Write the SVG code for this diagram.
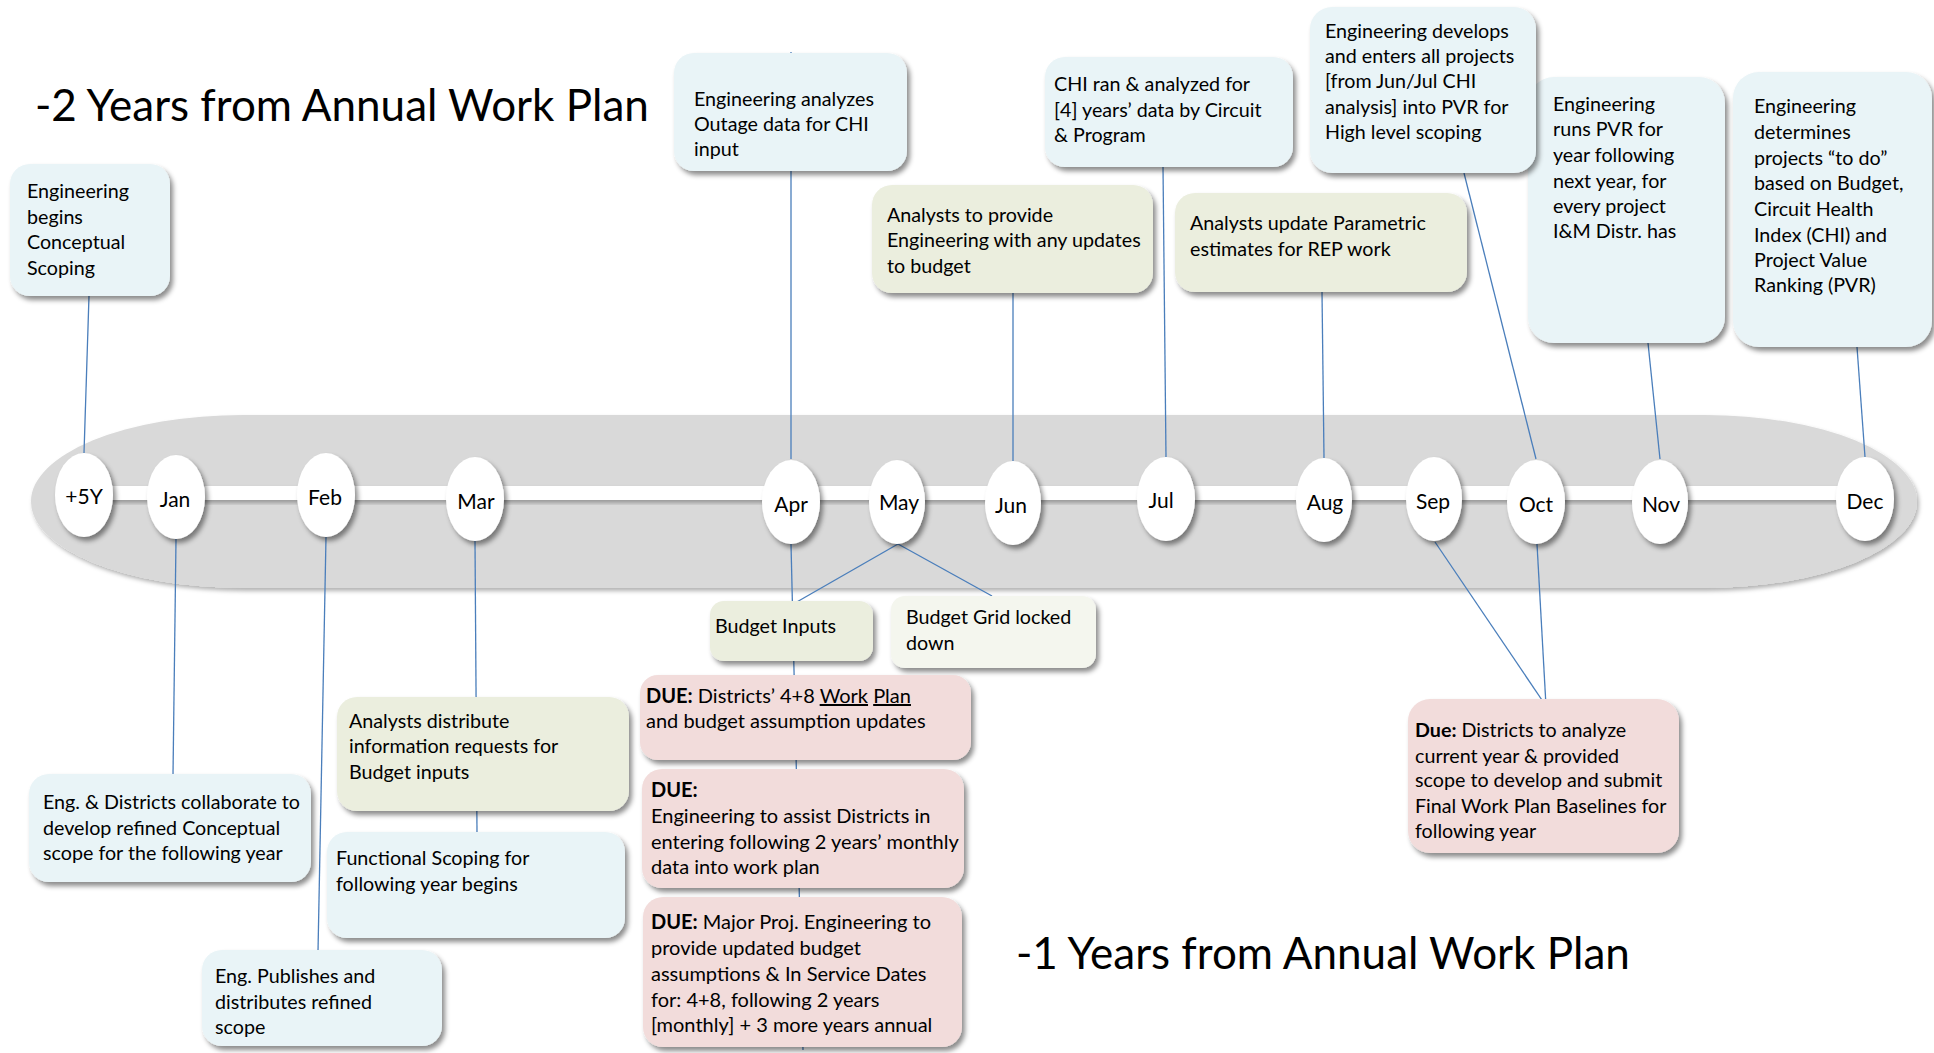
<svg xmlns="http://www.w3.org/2000/svg" width="1934" height="1053" viewBox="0 0 1934 1053">
  <style>
    .t { font-family: Lato, "Open Sans", "Liberation Sans", sans-serif; font-size: 19.7px; fill: #000; }
    .tp { font-size: 20px; }
    .title { font-family: Lato, "Open Sans", "Liberation Sans", sans-serif; font-size: 44px; fill: #000; }
    .mon { font-family: Lato, "Open Sans", "Liberation Sans", sans-serif; font-size: 21px; fill: #000; text-anchor: middle; }
    .blue { fill: #E9F4F7; }
    .olive { fill: #EBEEDE; }
    .pale { fill: #F4F6EE; }
    .pink { fill: #F2DCDB; }
    .box { filter: url(#shadow); }
    .oval { fill: #fff; filter: url(#shadow); }
    .conn { stroke: #4A7EBB; stroke-width: 1.3; fill: none; }
    .b { font-weight: bold; }
    .u { text-decoration: underline; }
  </style>
  <defs>
    <filter id="shadow" x="-20%" y="-20%" width="150%" height="150%">
      <feDropShadow dx="3" dy="4" stdDeviation="2.5" flood-color="#000" flood-opacity="0.45"/>
    </filter>
    <filter id="bandShadow" x="-5%" y="-20%" width="110%" height="150%">
      <feDropShadow dx="2" dy="3" stdDeviation="2" flood-color="#000" flood-opacity="0.3"/>
    </filter>
  </defs>

  <rect width="1934" height="1053" fill="#fff"/>

  <!-- timeline band -->
  <g id="band">
    <rect x="31" y="415" width="1886" height="173" rx="212" ry="86.5" fill="#D9D9D9" filter="url(#bandShadow)"/>
    <rect x="80" y="486" width="1786" height="14" fill="#fff" filter="url(#bandShadow)"/>
  </g>

  <!-- connectors -->
  <g id="connectors" class="conn">
    <line x1="89" y1="296" x2="84" y2="453"/>
    <line x1="176" y1="539" x2="173" y2="775"/>
    <line x1="326" y1="537" x2="318" y2="952"/>
    <line x1="475" y1="541" x2="477" y2="832"/>
    <line x1="791" y1="52" x2="791" y2="459"/>
    <line x1="791" y1="544" x2="803" y2="1050"/>
    <line x1="898" y1="544" x2="795" y2="603"/>
    <line x1="898" y1="544" x2="992" y2="596"/>
    <line x1="1013" y1="293" x2="1013" y2="461"/>
    <line x1="1163" y1="167" x2="1166" y2="457"/>
    <line x1="1322" y1="292" x2="1324" y2="458"/>
    <line x1="1464" y1="173" x2="1536" y2="459"/>
    <line x1="1648" y1="343" x2="1660" y2="459"/>
    <line x1="1857" y1="347" x2="1865" y2="457"/>
    <line x1="1435" y1="542" x2="1546" y2="706"/>
    <line x1="1537" y1="544" x2="1546" y2="706"/>
  </g>

  <!-- month markers -->
  <g id="m-5y"><ellipse class="oval" cx="84" cy="495" rx="29" ry="42"/><text class="mon" x="84" y="504">+5Y</text></g>
  <g id="m-jan"><ellipse class="oval" cx="176" cy="497" rx="29" ry="42"/><text class="mon" x="175" y="507">Jan</text></g>
  <g id="m-feb"><ellipse class="oval" cx="326" cy="495" rx="29" ry="42"/><text class="mon" x="325" y="505">Feb</text></g>
  <g id="m-mar"><ellipse class="oval" cx="475" cy="499" rx="29" ry="42"/><text class="mon" x="476" y="509">Mar</text></g>
  <g id="m-apr"><ellipse class="oval" cx="791" cy="502" rx="29" ry="42"/><text class="mon" x="791" y="512">Apr</text></g>
  <g id="m-may"><ellipse class="oval" cx="897" cy="502" rx="28" ry="42"/><text class="mon" x="899" y="510">May</text></g>
  <g id="m-jun"><ellipse class="oval" cx="1013" cy="503" rx="28" ry="42"/><text class="mon" x="1011" y="513">Jun</text></g>
  <g id="m-jul"><ellipse class="oval" cx="1166" cy="499" rx="29" ry="42"/><text class="mon" x="1161" y="508">Jul</text></g>
  <g id="m-aug"><ellipse class="oval" cx="1324" cy="500" rx="28" ry="42"/><text class="mon" x="1325" y="510">Aug</text></g>
  <g id="m-sep"><ellipse class="oval" cx="1434" cy="499" rx="28" ry="42"/><text class="mon" x="1433" y="509">Sep</text></g>
  <g id="m-oct"><ellipse class="oval" cx="1536" cy="502" rx="29" ry="42"/><text class="mon" x="1536" y="512">Oct</text></g>
  <g id="m-nov"><ellipse class="oval" cx="1660" cy="502" rx="28" ry="42"/><text class="mon" x="1661" y="512">Nov</text></g>
  <g id="m-dec"><ellipse class="oval" cx="1865" cy="499" rx="29" ry="42"/><text class="mon" x="1865" y="509">Dec</text></g>

  <!-- headings -->
  <text id="heading-2y" class="title" x="35" y="121">-2 Years from Annual Work Plan</text>
  <text id="heading-1y" class="title" x="1016" y="969">-1 Years from Annual Work Plan</text>

  <!-- activity boxes above the timeline -->
  <g id="n-concept">
    <rect class="box blue" x="10" y="164" width="160" height="132" rx="20"/>
    <text class="t"><tspan x="27" y="198">Engineering</tspan><tspan x="27" y="224">begins</tspan><tspan x="27" y="249">Conceptual</tspan><tspan x="27" y="275">Scoping</tspan></text>
  </g>
  <g id="n-outage">
    <rect class="box blue" x="674" y="53" width="233" height="118" rx="20"/>
    <text class="t"><tspan x="694" y="106">Engineering analyzes</tspan><tspan x="694" y="131">Outage data for CHI</tspan><tspan x="694" y="156">input</tspan></text>
  </g>
  <g id="n-chi">
    <rect class="box blue" x="1045" y="57" width="248" height="110" rx="20"/>
    <text class="t"><tspan x="1054" y="91">CHI ran &amp; analyzed for</tspan><tspan x="1054" y="117">[4] years’ data by Circuit</tspan><tspan x="1054" y="142">&amp; Program</tspan></text>
  </g>
  <g id="n-budget-updates">
    <rect class="box olive" x="872" y="185" width="281" height="108" rx="20"/>
    <text class="t"><tspan x="887" y="222">Analysts to provide</tspan><tspan x="887" y="247">Engineering with any updates</tspan><tspan x="887" y="273">to budget</tspan></text>
  </g>
  <g id="n-parametric">
    <rect class="box olive" x="1175" y="193" width="292" height="99" rx="20"/>
    <text class="t"><tspan x="1190" y="230">Analysts update Parametric</tspan><tspan x="1190" y="256">estimates for REP work</tspan></text>
  </g>
  <g id="n-pvr-run">
    <rect class="box blue" x="1528" y="77" width="197" height="266" rx="26"/>
    <text class="t"><tspan x="1553" y="111">Engineering</tspan><tspan x="1553" y="136">runs PVR for</tspan><tspan x="1553" y="162">year following</tspan><tspan x="1553" y="188">next year, for</tspan><tspan x="1553" y="213">every project</tspan><tspan x="1553" y="238">I&amp;M Distr. has</tspan></text>
  </g>
  <g id="n-develops">
    <rect class="box blue" x="1310" y="7" width="226" height="166" rx="22"/>
    <text class="t"><tspan x="1325" y="38">Engineering develops</tspan><tspan x="1325" y="63">and enters all projects</tspan><tspan x="1325" y="88">[from Jun/Jul CHI</tspan><tspan x="1325" y="114">analysis] into PVR for</tspan><tspan x="1325" y="139">High level scoping</tspan></text>
  </g>
  <g id="n-determines">
    <rect class="box blue" x="1733" y="72" width="199" height="275" rx="26"/>
    <text class="t"><tspan x="1754" y="113">Engineering</tspan><tspan x="1754" y="139">determines</tspan><tspan x="1754" y="165">projects “to do”</tspan><tspan x="1754" y="190">based on Budget,</tspan><tspan x="1754" y="216">Circuit Health</tspan><tspan x="1754" y="242">Index (CHI) and</tspan><tspan x="1754" y="267">Project Value</tspan><tspan x="1754" y="292">Ranking (PVR)</tspan></text>
  </g>

  <!-- activity boxes below the timeline -->
  <g id="n-collaborate">
    <rect class="box blue" x="29" y="774" width="282" height="108" rx="20"/>
    <text class="t"><tspan x="43" y="809">Eng. &amp; Districts collaborate to</tspan><tspan x="43" y="835">develop refined Conceptual</tspan><tspan x="43" y="860">scope for the following year</tspan></text>
  </g>
  <g id="n-info-requests">
    <rect class="box olive" x="337" y="697" width="292" height="114" rx="20"/>
    <text class="t"><tspan x="349" y="728">Analysts distribute</tspan><tspan x="349" y="753">information requests for</tspan><tspan x="349" y="779">Budget inputs</tspan></text>
  </g>
  <g id="n-functional">
    <rect class="box blue" x="327" y="832" width="298" height="106" rx="20"/>
    <text class="t"><tspan x="336" y="865">Functional Scoping for</tspan><tspan x="336" y="891">following year begins</tspan></text>
  </g>
  <g id="n-publishes">
    <rect class="box blue" x="202" y="950" width="240" height="96" rx="20"/>
    <text class="t"><tspan x="215" y="983">Eng. Publishes and</tspan><tspan x="215" y="1009">distributes refined</tspan><tspan x="215" y="1034">scope</tspan></text>
  </g>
  <g id="n-budget-inputs">
    <rect class="box olive" x="710" y="601" width="163" height="60" rx="14"/>
    <text class="t"><tspan x="715" y="633">Budget Inputs</tspan></text>
  </g>
  <g id="n-budget-grid">
    <rect class="box pale" x="891" y="596" width="205" height="72" rx="14"/>
    <text class="t"><tspan x="906" y="624">Budget Grid locked</tspan><tspan x="906" y="650">down</tspan></text>
  </g>
  <g id="n-due-workplan">
    <rect class="box pink" x="640" y="675" width="331" height="85" rx="18"/>
    <text class="t tp"><tspan x="646" y="703"><tspan class="b">DUE:</tspan> Districts’ 4+8 <tspan class="u">Work</tspan> <tspan class="u">Plan</tspan></tspan><tspan x="646" y="728">and budget assumption updates</tspan></text>
  </g>
  <g id="n-due-assist">
    <rect class="box pink" x="642" y="769" width="322" height="119" rx="20"/>
    <text class="t tp"><tspan x="651" y="797" class="b">DUE:</tspan><tspan x="651" y="823">Engineering to assist Districts in</tspan><tspan x="651" y="849">entering following 2 years’ monthly</tspan><tspan x="651" y="874">data into work plan</tspan></text>
  </g>
  <g id="n-due-major">
    <rect class="box pink" x="643" y="897" width="319" height="150" rx="20"/>
    <text class="t tp"><tspan x="651" y="929"><tspan class="b">DUE:</tspan> Major Proj. Engineering to</tspan><tspan x="651" y="955">provide updated budget</tspan><tspan x="651" y="981">assumptions &amp; In Service Dates</tspan><tspan x="651" y="1007">for: 4+8, following 2 years</tspan><tspan x="651" y="1032">[monthly] + 3 more years annual</tspan></text>
  </g>
  <g id="n-due-baselines">
    <rect class="box pink" x="1408" y="699" width="271" height="154" rx="22"/>
    <text class="t"><tspan x="1415" y="737"><tspan class="b">Due:</tspan> Districts to analyze</tspan><tspan x="1415" y="763">current year &amp; provided</tspan><tspan x="1415" y="787">scope to develop and submit</tspan><tspan x="1415" y="813">Final Work Plan Baselines for</tspan><tspan x="1415" y="838">following year</tspan></text>
  </g>
</svg>
